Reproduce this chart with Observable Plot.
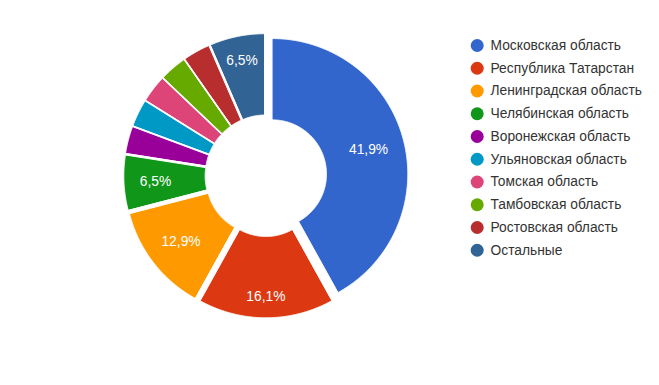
<!DOCTYPE html>
<html><head><meta charset="utf-8">
<script src="https://cdn.jsdelivr.net/npm/d3@7"></script>
<script src="https://cdn.jsdelivr.net/npm/@observablehq/plot@0.6"></script>
<style>body{margin:0;background:#fff;} svg{display:block}</style>
</head><body><div id="chart"></div>
<script>
const regions = ["Московская область","Республика Татарстан","Ленинградская область","Челябинская область","Воронежская область","Ульяновская область","Томская область","Тамбовская область","Ростовская область","Остальные"];
const shares = [41.9, 16.1, 12.9, 6.5, 3.2, 3.2, 3.2, 3.2, 3.2, 6.5];
const colors = ["#3366cc","#dc3912","#ff9900","#109618","#990099","#0099c6","#dd4477","#66aa00","#b82e2e","#316395"];

const W = 659, H = 385;
const cx = 265.4, cy = 175.2, R = 135.5;
const hole = 0.4, explode = 6.6 / R;
const labelReach = 126.5 / R, labelMin = 5, fontSize = 13.8;
const legendX = 476.7, legendY = 45, legendStep = 22.75, legendTextX = 490;
const ux = px => (px - cx) / R, uy = py => (py - cy) / R;

const arcs = d3.pie().sort(null).value(d => d)(shares);
const slicePts = [];
const labels = [];
arcs.forEach((p, i) => {
  const mid = (p.startAngle + p.endAngle) / 2;
  const dx = Math.sin(mid), dy = -Math.cos(mid);
  const ox = dx * explode, oy = dy * explode;
  const n = Math.max(4, Math.ceil((p.endAngle - p.startAngle) / 0.005));
  for (let j = 0; j <= n; j++) {
    const a = p.startAngle + (p.endAngle - p.startAngle) * j / n;
    slicePts.push({region: regions[i], x: ox + Math.sin(a), y: oy - Math.cos(a)});
  }
  for (let j = n; j >= 0; j--) {
    const a = p.startAngle + (p.endAngle - p.startAngle) * j / n;
    slicePts.push({region: regions[i], x: ox + hole * Math.sin(a), y: oy - hole * Math.cos(a)});
  }
  if (shares[i] >= labelMin) {
    const text = shares[i].toFixed(1).replace(".", ",") + "%";
    const w = [...text].reduce((s, c) => s + (c === "," ? 0.278 : c === "%" ? 0.889 : 0.556) * fontSize, 0);
    const h = 12;
    const k = labelReach - (Math.abs(dx) * w / 2 + Math.abs(dy) * h / 2) / R;
    labels.push({text, x: dx * k, y: dy * k});
  }
});

const chart = Plot.plot({
  width: W, height: H, margin: 0,
  x: {domain: [-1, 1], range: [cx - R, cx + R], axis: null},
  y: {domain: [-1, 1], range: [cy - R, cy + R], axis: null},
  color: {domain: regions, range: colors},
  style: {fontFamily: "Arial, 'Liberation Sans', sans-serif", background: "#fff"},
  marks: [
    Plot.line(slicePts, {x: "x", y: "y", z: "region", fill: "region", stroke: "white", strokeWidth: 1, curve: "linear-closed"}),
    Plot.text(labels, {x: "x", y: "y", text: "text", fill: "white", fontSize, textAnchor: "middle", lineAnchor: "middle"}),
    Plot.dot(regions, {x: () => ux(legendX), y: (d, i) => uy(legendY + i * legendStep), fill: d => d, r: 6.5}),
    Plot.text(regions, {x: () => ux(legendTextX), y: (d, i) => uy(legendY + i * legendStep), text: d => d, fill: "#333", fontSize, textAnchor: "start", lineAnchor: "middle"})
  ]
});
document.getElementById("chart").append(chart);
</script>
</body></html>
